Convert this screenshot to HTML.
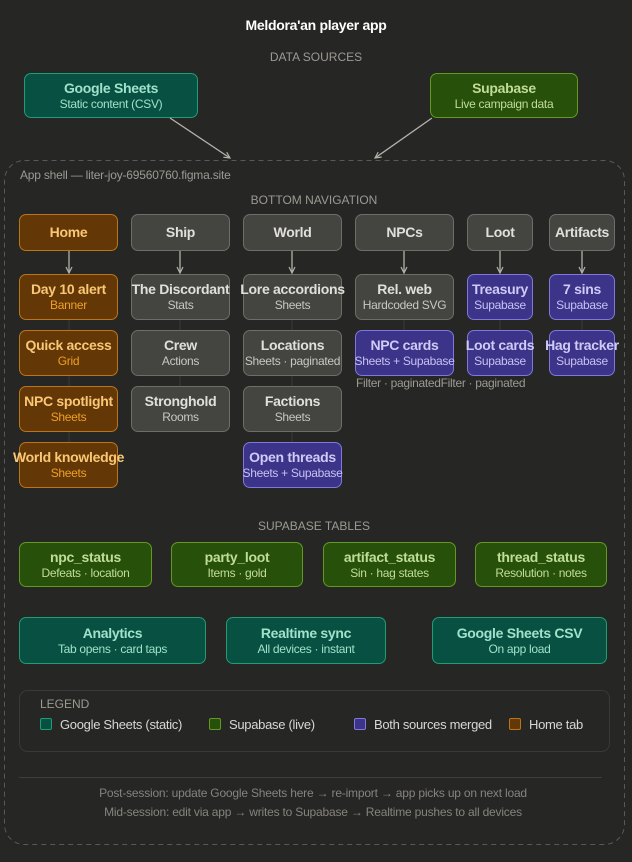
<!DOCTYPE html>
<html><head><meta charset="utf-8"><style>
*{margin:0;padding:0;box-sizing:border-box}
body{width:632px;height:862px;background:#262625;font-family:"Liberation Sans",sans-serif;position:relative;overflow:hidden;color:#ddd}
.t{position:absolute;white-space:nowrap}
.c{position:absolute;text-align:center;white-space:nowrap;transform:translateX(-50%)}
.n{position:absolute;border:1px solid;border-radius:7px;display:flex;flex-direction:column;align-items:center;justify-content:center;white-space:nowrap;overflow:visible;letter-spacing:-0.3px}
.n b{font-size:14px;font-weight:bold;line-height:17px}
.n i{font-style:normal;font-size:12px;line-height:15px}
.g{background:#444441;border-color:#6e6d67;color:#e0dfda}.g i{color:#c8c7c2}
.o{background:#633806;border-color:#ba7517;color:#fac775}.o i{color:#ef9f27}
.p{background:#3c3489;border-color:#7f77dd;color:#cecbf6}.p i{color:#c6c2f4}
.gr{background:#27500a;border-color:#639922;color:#c0dd97}
.tl{background:#085041;border-color:#1d9e75;color:#9fe1cb}
.lbl{font-size:12px;color:#9c9a92}
.sw{position:absolute;width:12px;height:12px;border:1px solid;border-radius:2px}
</style></head><body>
<div class="c" style="left:316px;top:17px;font-size:14px;font-weight:bold;color:#fff;letter-spacing:-0.3px">Meldora'an player app</div>
<div class="c lbl" style="left:316px;top:50px">DATA SOURCES</div>
<div class="n tl" style="left:24px;top:73px;width:174px;height:45px"><b>Google Sheets</b><i>Static content (CSV)</i></div>
<div class="n gr" style="left:430px;top:73px;width:148px;height:45px"><b>Supabase</b><i>Live campaign data</i></div>
<svg style="position:absolute;left:0;top:0" width="632" height="862">
<defs><marker id="a" markerWidth="8" markerHeight="8" refX="7" refY="4" orient="auto" markerUnits="userSpaceOnUse"><path d="M1,1 L7,4 L1,7" fill="none" stroke="#b4b2a9" stroke-width="1.2"/></marker></defs>
<line x1="170" y1="118" x2="230" y2="158" stroke="#b4b2a9" stroke-width="1.3" marker-end="url(#a)"/>
<line x1="432" y1="118" x2="375" y2="158" stroke="#b4b2a9" stroke-width="1.3" marker-end="url(#a)"/>
<rect x="4.5" y="160.5" width="620" height="684" rx="20" fill="none" stroke="#5a5955" stroke-dasharray="5,4"/>
<g stroke="#b4b2a9" stroke-width="1.3" marker-end="url(#a)">
<line x1="69" y1="250" x2="69" y2="273"/><line x1="180" y1="250" x2="180" y2="273"/><line x1="292" y1="250" x2="292" y2="273"/><line x1="404" y1="250" x2="404" y2="273"/><line x1="500" y1="250" x2="500" y2="273"/><line x1="582" y1="250" x2="582" y2="273"/>
</g>
<g stroke="#3c3b38" stroke-width="1">
<line x1="69" y1="319" x2="69" y2="442"/><line x1="180" y1="319" x2="180" y2="386"/><line x1="292" y1="319" x2="292" y2="442"/><line x1="404" y1="319" x2="404" y2="330"/><line x1="500" y1="319" x2="500" y2="330"/><line x1="582" y1="319" x2="582" y2="330"/>
</g>
<rect x="19.5" y="690.5" width="590" height="61" rx="8" fill="none" stroke="#3a3936"/>
<line x1="19" y1="777.5" x2="602" y2="777.5" stroke="#3e3d3a"/>
</svg>
<div class="t lbl" style="left:20px;top:168px;letter-spacing:-0.2px">App shell — liter-joy-69560760.figma.site</div>
<div class="c lbl" style="left:314px;top:193px">BOTTOM NAVIGATION</div>
<div class="n o" style="left:19px;top:214px;width:99px;height:37px"><b>Home</b></div>
<div class="n g" style="left:131px;top:214px;width:99px;height:37px"><b>Ship</b></div>
<div class="n g" style="left:243px;top:214px;width:99px;height:37px"><b>World</b></div>
<div class="n g" style="left:355px;top:214px;width:99px;height:37px"><b>NPCs</b></div>
<div class="n g" style="left:467px;top:214px;width:66px;height:37px"><b>Loot</b></div>
<div class="n g" style="left:549px;top:214px;width:66px;height:37px"><b>Artifacts</b></div>

<div class="n o" style="left:19px;top:274px;width:99px;height:46px"><b>Day 10 alert</b><i>Banner</i></div>
<div class="n o" style="left:19px;top:330px;width:99px;height:46px"><b>Quick access</b><i>Grid</i></div>
<div class="n o" style="left:19px;top:386px;width:99px;height:46px"><b>NPC spotlight</b><i>Sheets</i></div>
<div class="n o" style="left:19px;top:442px;width:99px;height:46px"><b>World knowledge</b><i>Sheets</i></div>

<div class="n g" style="left:131px;top:274px;width:99px;height:46px"><b>The Discordant</b><i>Stats</i></div>
<div class="n g" style="left:131px;top:330px;width:99px;height:46px"><b>Crew</b><i>Actions</i></div>
<div class="n g" style="left:131px;top:386px;width:99px;height:46px"><b>Stronghold</b><i>Rooms</i></div>

<div class="n g" style="left:243px;top:274px;width:99px;height:46px"><b>Lore accordions</b><i>Sheets</i></div>
<div class="n g" style="left:243px;top:330px;width:99px;height:46px"><b>Locations</b><i>Sheets · paginated</i></div>
<div class="n g" style="left:243px;top:386px;width:99px;height:46px"><b>Factions</b><i>Sheets</i></div>
<div class="n p" style="left:243px;top:442px;width:99px;height:46px"><b>Open threads</b><i>Sheets + Supabase</i></div>

<div class="n g" style="left:355px;top:274px;width:99px;height:46px"><b>Rel. web</b><i>Hardcoded SVG</i></div>
<div class="n p" style="left:355px;top:330px;width:99px;height:46px"><b>NPC cards</b><i>Sheets + Supabase</i></div>
<div class="t lbl" style="left:356px;top:376px;letter-spacing:-0.3px">Filter · paginatedFilter · paginated</div>

<div class="n p" style="left:467px;top:274px;width:66px;height:46px"><b>Treasury</b><i>Supabase</i></div>
<div class="n p" style="left:467px;top:330px;width:66px;height:46px"><b>Loot cards</b><i>Supabase</i></div>
<div class="n p" style="left:549px;top:274px;width:66px;height:46px"><b>7 sins</b><i>Supabase</i></div>
<div class="n p" style="left:549px;top:330px;width:66px;height:46px"><b>Hag tracker</b><i>Supabase</i></div>

<div class="c lbl" style="left:314px;top:519px">SUPABASE TABLES</div>
<div class="n gr" style="left:19px;top:542px;width:133px;height:45px"><b>npc_status</b><i>Defeats · location</i></div>
<div class="n gr" style="left:171px;top:542px;width:132px;height:45px"><b>party_loot</b><i>Items · gold</i></div>
<div class="n gr" style="left:323px;top:542px;width:133px;height:45px"><b>artifact_status</b><i>Sin · hag states</i></div>
<div class="n gr" style="left:475px;top:542px;width:132px;height:45px"><b>thread_status</b><i>Resolution · notes</i></div>

<div class="n tl" style="left:19px;top:617px;width:187px;height:47px"><b>Analytics</b><i>Tab opens · card taps</i></div>
<div class="n tl" style="left:226px;top:617px;width:160px;height:47px"><b>Realtime sync</b><i>All devices · instant</i></div>
<div class="n tl" style="left:432px;top:617px;width:175px;height:47px"><b>Google Sheets CSV</b><i>On app load</i></div>

<div class="t lbl" style="left:40px;top:697px">LEGEND</div>
<div class="sw" style="left:40px;top:718px;background:#085041;border-color:#1d9e75"></div>
<div class="t" style="left:60px;top:717px;font-size:13px;color:#d8d7d2;letter-spacing:-0.3px">Google Sheets (static)</div>
<div class="sw" style="left:209px;top:718px;background:#27500a;border-color:#639922"></div>
<div class="t" style="left:229px;top:717px;font-size:13px;color:#d8d7d2;letter-spacing:-0.3px">Supabase (live)</div>
<div class="sw" style="left:354px;top:718px;background:#3c3489;border-color:#7f77dd"></div>
<div class="t" style="left:374px;top:717px;font-size:13px;color:#d8d7d2;letter-spacing:-0.3px">Both sources merged</div>
<div class="sw" style="left:509px;top:718px;background:#633806;border-color:#ba7517"></div>
<div class="t" style="left:529px;top:717px;font-size:13px;color:#d8d7d2;letter-spacing:-0.3px">Home tab</div>

<div class="c" style="left:313px;top:786px;font-size:12px;color:#85837c;letter-spacing:-0.2px">Post-session: update Google Sheets here → re-import → app picks up on next load</div>
<div class="c" style="left:313px;top:805px;font-size:12px;color:#85837c;letter-spacing:-0.2px">Mid-session: edit via app → writes to Supabase → Realtime pushes to all devices</div>
</body></html>
